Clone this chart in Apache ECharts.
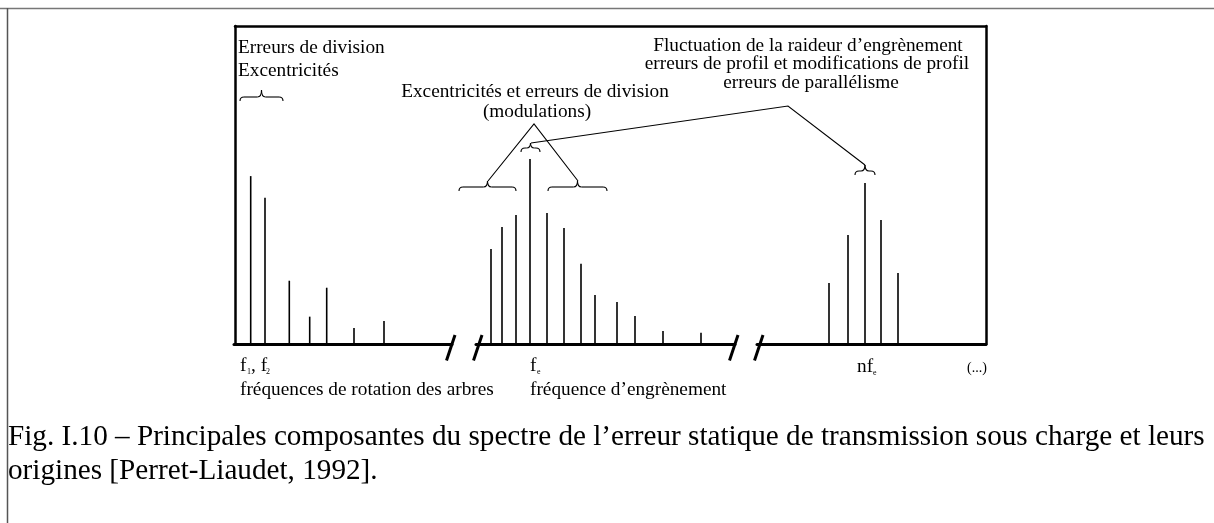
<!DOCTYPE html>
<html>
<head>
<meta charset="utf-8">
<script src="https://cdn.jsdelivr.net/npm/echarts@6/dist/echarts.min.js"></script>
<style>
html, body { margin: 0; padding: 0; background: #fff; }
#chart { width: 1214px; height: 523px; }
</style>
</head>
<body>
<div id="chart"></div>
<script>
// raies du spectre (abscisse relative dans chaque tronçon, amplitude en % de la hauteur du cadre)
var shaftX   = [16.7, 31, 55.3, 75.7, 92.7, 120, 150];
var shaftAmp = [52.8, 46, 19.9, 8.6, 17.7, 5, 7.2];
var meshX    = [15, 26, 40, 54, 71, 88, 105, 119, 141, 159, 187, 225];
var meshAmp  = [29.9, 36.8, 40.6, 58.2, 41.2, 36.5, 25.2, 15.4, 13.2, 8.8, 4.1, 3.5];
var harmX    = [72, 91, 108, 124, 141];
var harmAmp  = [19.2, 34.3, 50.6, 39, 22.3];
var segMax   = [218, 259, 229];

var caption1 = 'Fig. I.10 \u2013 Principales composantes du spectre de l\u2019erreur statique de transmission sous charge et leurs';
var caption2 = 'origines [Perret-Liaudet, 1992].';

var serif = '"Liberation Serif", "Times New Roman", serif';

function pairs(xs, ys) {
  return xs.map(function (x, i) { return [x, ys[i]]; });
}

var thin = { stroke: '#000', fill: null, lineWidth: 1.1 };

// accolade horizontale, pointe vers le haut
function brace(x1, x2, y, tip) {
  var xm = (x1 + x2) / 2, r = 4;
  function q(ax, ay, cx, cy, bx, by) {
    return { type: 'bezierCurve', z: 10, shape: { x1: ax, y1: ay, cpx1: cx, cpy1: cy, x2: bx, y2: by }, style: thin };
  }
  function l(ax, ay, bx, by) {
    return { type: 'line', z: 10, shape: { x1: ax, y1: ay, x2: bx, y2: by }, style: thin };
  }
  return [
    q(x1, y + r, x1, y, x1 + r, y),
    l(x1 + r, y, xm - r, y),
    q(xm - r, y, xm, y, xm, tip),
    q(xm, tip, xm, y, xm + r, y),
    l(xm + r, y, x2 - r, y),
    q(x2 - r, y, x2, y, x2, y + r)
  ];
}

function txt(s, x, y, align, size) {
  return {
    type: 'text', z: 10,
    style: { text: s, x: x, y: y, fill: '#000', fontFamily: serif, fontSize: size || 19.3,
      align: align || 'left', verticalAlign: 'middle' }
  };
}

// taille de la légende ajustée à la largeur de la ligne
var ctx = document.createElement('canvas').getContext('2d');
ctx.font = '24px ' + serif;
var capSize = 24 * 1197 / ctx.measureText(caption1).width;

var chart = echarts.init(document.getElementById('chart'));

var grids = [
  { left: 234, width: 218, top: 26, bottom: 179 },
  { left: 476, width: 259, top: 26, bottom: 179 },
  { left: 757, width: 229, top: 26, bottom: 179 },
  { left: 235, width: 751, top: 26, bottom: 179 }
];

var xAxes = [], yAxes = [], series = [];
[0, 1, 2].forEach(function (i) {
  xAxes.push({
    type: 'value', gridIndex: i, min: 0, max: segMax[i],
    axisLine: { show: true, onZero: false, lineStyle: { color: '#000', width: 3 } },
    axisTick: { show: false }, axisLabel: { show: false }, splitLine: { show: false }
  });
  yAxes.push({ type: 'value', gridIndex: i, min: 0, max: 100, show: false });
});
// cadre
xAxes.push({
  type: 'value', gridIndex: 3, position: 'top', min: 0, max: 1,
  axisLine: { show: true, onZero: false, lineStyle: { color: '#000', width: 2.5 } },
  axisTick: { show: false }, axisLabel: { show: false }, splitLine: { show: false }
});
['left', 'right'].forEach(function (p) {
  yAxes.push({
    type: 'value', gridIndex: 3, position: p, min: 0, max: 1,
    axisLine: { show: true, onZero: false, lineStyle: { color: '#000', width: 2.5 } },
    axisTick: { show: false }, axisLabel: { show: false }, splitLine: { show: false }
  });
});

var lines = [pairs(shaftX, shaftAmp), pairs(meshX, meshAmp), pairs(harmX, harmAmp)];
lines.forEach(function (d, i) {
  series.push({
    type: 'bar', xAxisIndex: i, yAxisIndex: i, barWidth: 1.6,
    itemStyle: { color: '#000' }, data: d, silent: true, animation: false
  });
});

var graphic = [
  // cadre extérieur gris
  { type: 'line', shape: { x1: 0, y1: 8.5, x2: 1214, y2: 8.5 }, style: { stroke: '#777', lineWidth: 1.5 } },
  { type: 'line', shape: { x1: 7.5, y1: 8, x2: 7.5, y2: 523 }, style: { stroke: '#555', lineWidth: 1.5 } },

  txt('Erreurs de division', 238, 48),
  txt('Excentricit\u00e9s', 238, 71),
  txt('Excentricit\u00e9s et erreurs de division', 535, 92, 'center'),
  txt('(modulations)', 537, 112, 'center'),
  txt('Fluctuation de la raideur d\u2019engr\u00e8nement', 808, 46, 'center'),
  txt('erreurs de profil et modifications de profil', 807, 64, 'center'),
  txt('erreurs de parall\u00e9lisme', 811, 83, 'center'),

  txt('f', 240, 366),
  txt('1', 247, 372, 'left', 8),
  txt(', f', 251, 366),
  txt('2', 266, 372, 'left', 8),
  txt('fr\u00e9quences de rotation des arbres', 240, 390),
  txt('f', 530, 366),
  txt('e', 537, 372, 'left', 8),
  txt('fr\u00e9quence d\u2019engr\u00e8nement', 530, 390),
  txt('nf', 857, 367),
  txt('e', 873, 373, 'left', 8),
  txt('(...)', 967, 368, 'left', 14),

  { type: 'text', z: 10, style: { text: caption1, x: 8, y: 437, fill: '#000', fontFamily: serif, fontSize: capSize, verticalAlign: 'middle' } },
  { type: 'text', z: 10, style: { text: caption2, x: 8, y: 471, fill: '#000', fontFamily: serif, fontSize: capSize, verticalAlign: 'middle' } },

  { type: 'polyline', z: 10, shape: { points: [[488, 181], [534, 124], [578, 181]] }, style: thin },
  { type: 'polyline', z: 10, shape: { points: [[531, 143], [788, 106], [865, 165]] }, style: thin }
];

[
  [240, 283, 97, 90],
  [459, 516, 187, 181],
  [548, 607, 187, 181],
  [521, 540, 148, 143],
  [855, 875, 171, 165]
].forEach(function (b) {
  graphic = graphic.concat(brace(b[0], b[1], b[2], b[3]));
});

chart.setOption({
  animation: false,
  backgroundColor: '#fff',
  grid: grids,
  xAxis: xAxes,
  yAxis: yAxes,
  series: series
});

// marques de coupure aux extrémités des tronçons de l'axe
[[0, 'max'], [1, 'min'], [1, 'max'], [2, 'min']].forEach(function (c) {
  var v = c[1] === 'max' ? segMax[c[0]] : 0;
  var p = chart.convertToPixel({ xAxisIndex: c[0], yAxisIndex: c[0] }, [v, 0]);
  var dx = c[1] === 'max' ? 0 : 3;
  graphic.push({
    type: 'line', z: 10,
    shape: { x1: p[0] + 3 + dx, y1: p[1] - 9, x2: p[0] - 5.5 + dx, y2: p[1] + 16.5 },
    style: { stroke: '#000', lineWidth: 3 }
  });
});
chart.setOption({ graphic: graphic });
</script>
</body>
</html>
